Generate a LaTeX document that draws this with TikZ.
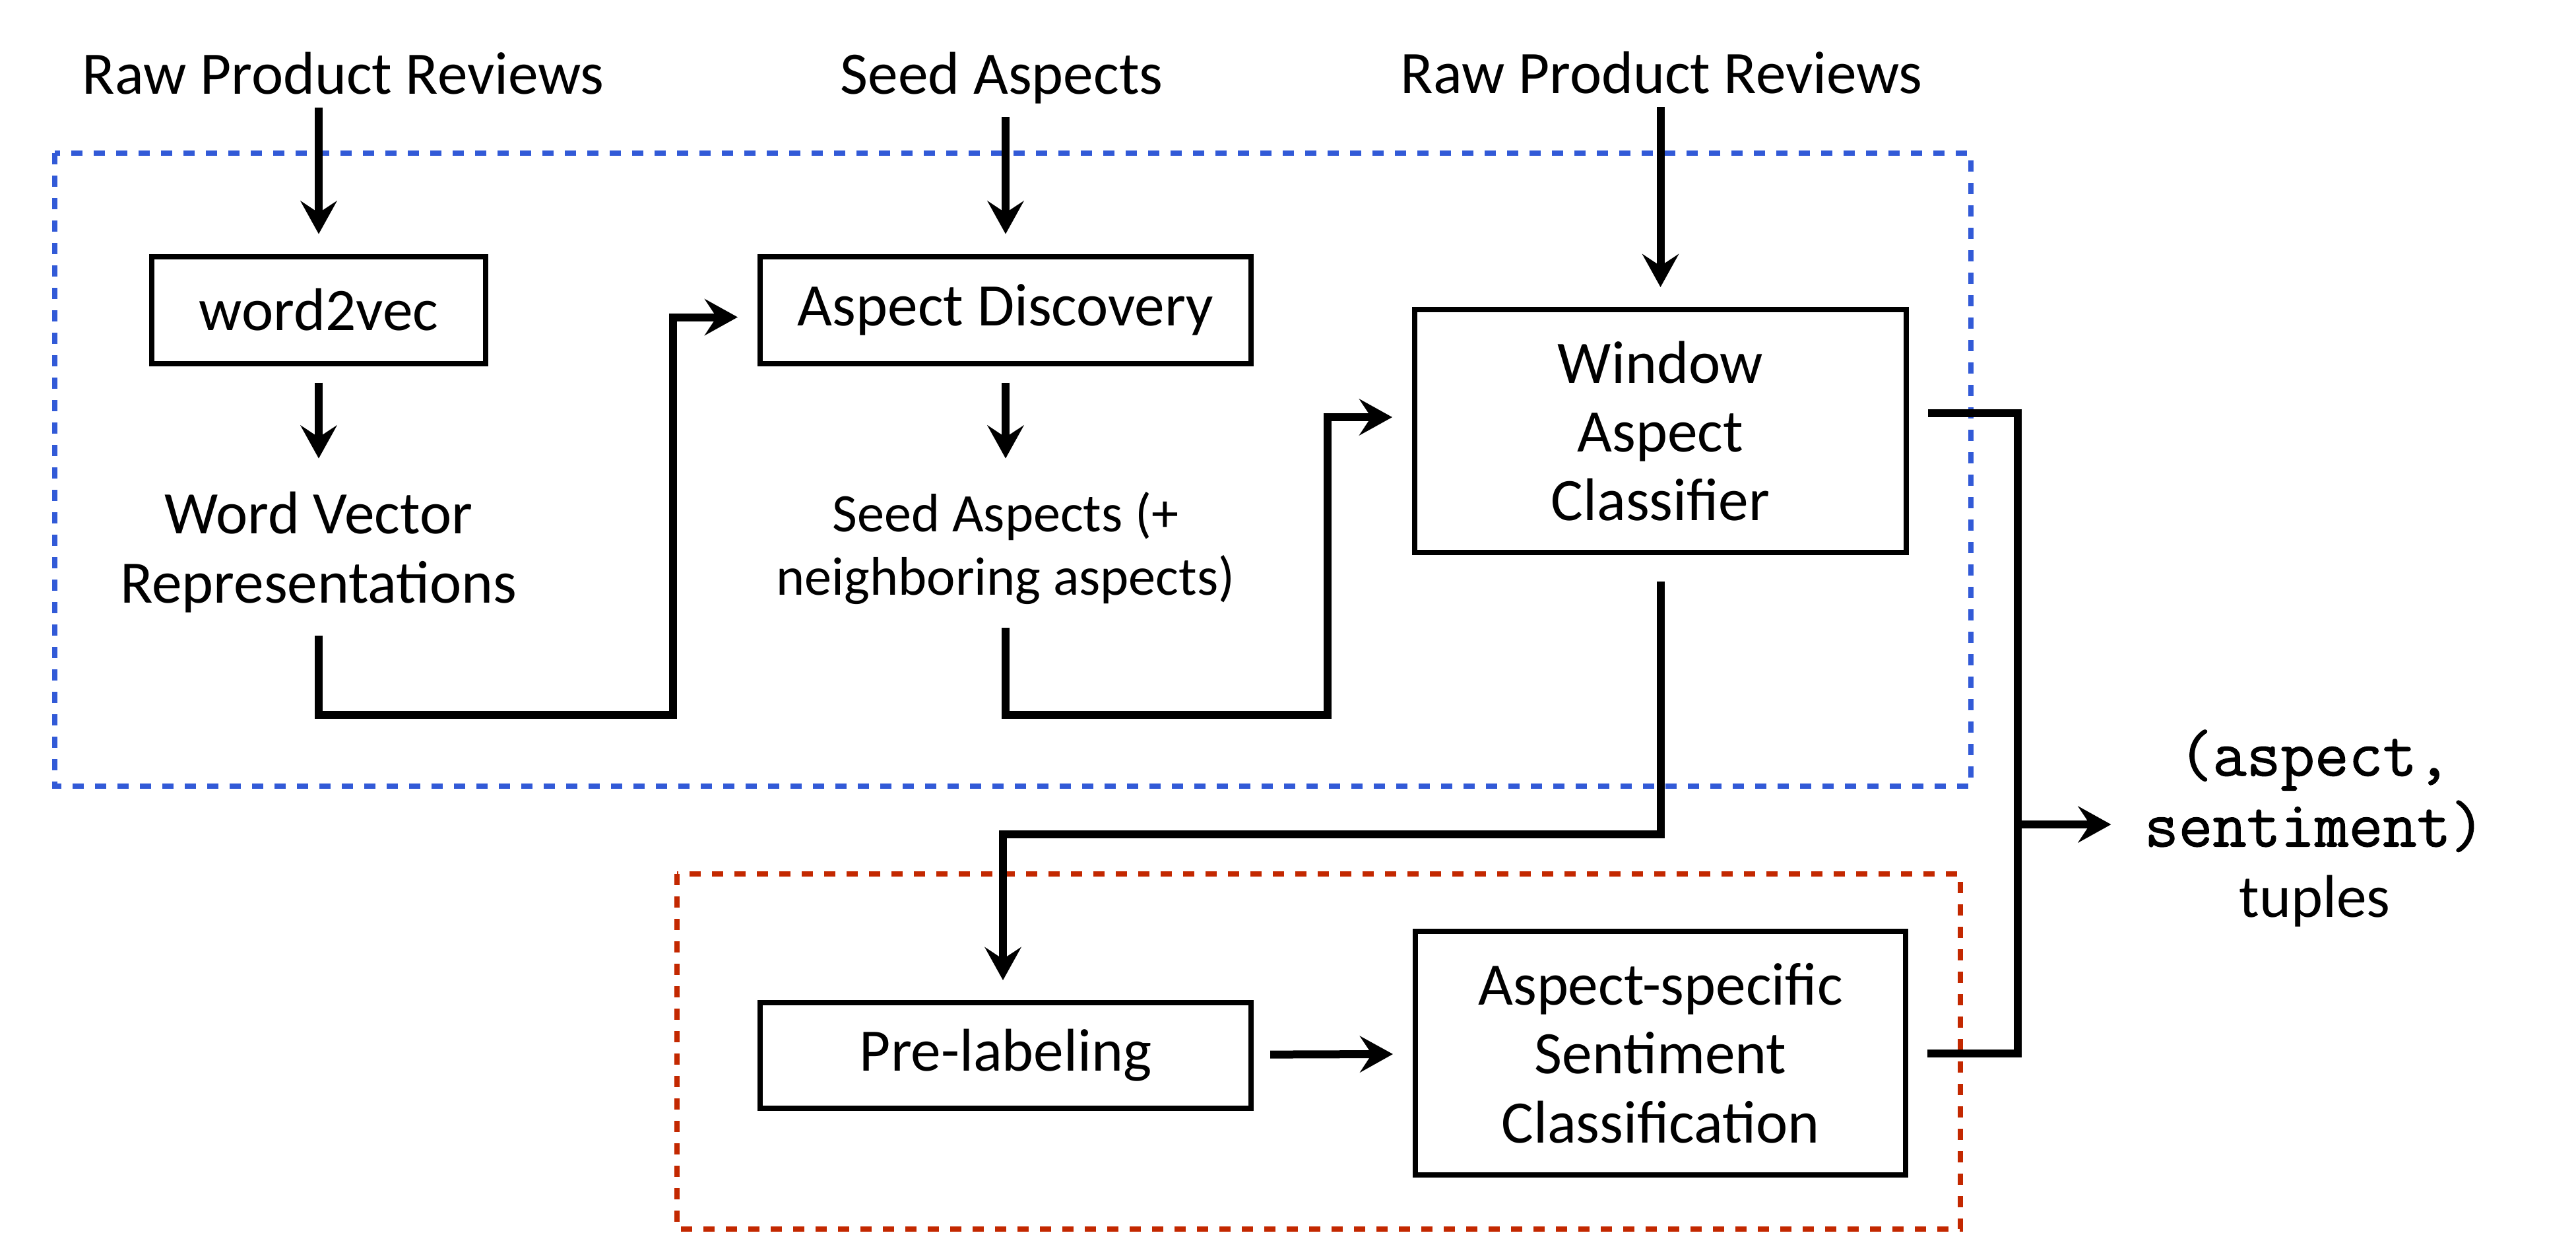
\documentclass[tikz,border=0pt]{standalone}
\usepackage{fontspec}
\setmainfont{Carlito}
\newfontfamily\tuplefam{Latin Modern Mono}[FakeBold=1.2]
\usepackage{xcolor}
\usetikzlibrary{positioning, arrows.meta}
\definecolor{boxblue}{RGB}{50,90,215}
\definecolor{boxred}{RGB}{195,40,0}
\newcommand{\tuplefont}{\tuplefam\fontsize{28.5}{30.5}\selectfont}

\begin{document}
\begin{tikzpicture}[
    blk/.style={draw, line width=0.08cm, inner sep=0pt, align=center, font=\fontsize{26}{29.7}\selectfont},
    lbl/.style={inner sep=0.1cm, align=center, font=\fontsize{26}{29.7}\selectfont},
    flow/.style={line width=0.12cm, -{Stealth[length=0.5cm, width=0.55cm, inset=0.18cm]}, shorten <=0.25cm, shorten >=0.3cm},
    wire/.style={line width=0.12cm},
    region/.style={line width=0.08cm, dash pattern=on 0.17cm off 0.17cm}]
  \useasboundingbox (0,0) rectangle (39.04,-18.70);

  \draw[region, boxblue] (0.83,-2.32) rectangle (29.87,-11.91);
  \draw[region, boxred] (10.26,-13.24) rectangle (29.71,-18.62);

  \node[lbl, anchor=base] (rev1) at (5.20,-1.42) {Raw Product Reviews};
  \node[lbl, anchor=base] (seed) at (15.18,-1.42) {Seed Aspects};
  \node[lbl, anchor=base] (rev2) at (25.18,-1.41) {Raw Product Reviews};

  \node[blk, minimum width=5.06cm, minimum height=1.62cm] (w2v) at (4.83,-4.695) {word2vec};
  \node[blk, minimum width=7.44cm, minimum height=1.62cm] (disc) at (15.24,-4.695) {Aspect Discovery};
  \node[blk, minimum width=7.45cm, minimum height=3.68cm] (win) at (25.165,-6.53) {Window\\Aspect\\Classifier};
  \node[blk, minimum width=7.44cm, minimum height=1.6cm] (pre) at (15.24,-15.99) {Pre-labeling};
  \node[blk, minimum width=7.43cm, minimum height=3.69cm] (asc) at (25.165,-15.955) {Aspect-specific\\Sentiment\\Classification};

  \node[lbl, below=1.8cm of w2v] (wvec) {Word Vector\\Representations};
  \node[lbl, below=1.8cm of disc, font=\fontsize{23.4}{27.3}\selectfont] (sexp) {Seed Aspects (+\\neighboring aspects)};
  \node[inner sep=0pt, align=center, font=\fontsize{26}{30.5}\selectfont] (out) at (35.08,-12.55)
    {{\tuplefont (aspect,}\\{\tuplefont sentiment)}\\tuples};

  \coordinate (c1) at (10.20,-10.83);
  \coordinate (c2) at (20.12,-10.83);
  \coordinate (c3) at (15.20,-12.64);
  \coordinate (j) at (30.58,-12.49);

  \draw[flow, shorten <=0.1cm] (rev1.south -| w2v.north) -- (w2v);
  \draw[flow, shorten <=0.1cm] (seed.south -| disc.north) -- (disc);
  \draw[flow, shorten <=0.1cm] (rev2.south -| win.north) -- (win);
  \draw[flow, shorten >=0.4cm] (w2v) -- (wvec);
  \draw[flow, shorten >=0.4cm] (disc) -- (sexp);
  \draw[flow] (wvec) |- (c1) |- ([yshift=-0.11cm]disc.west);
  \draw[flow] (sexp) |- (c2) |- ([yshift=0.21cm]win.west);
  \draw[flow, shorten <=0.4cm] (win) |- (c3) -- (c3 |- pre.north);
  \draw[flow] (pre) -- (asc);
  \draw[wire] ([xshift=0.29cm, yshift=0.27cm]win.east) -| (j) |- ([xshift=0.29cm]asc.east);
  \draw[flow, shorten <=0pt, shorten >=0.5cm] (j) -- (j -| out.west);
\end{tikzpicture}
\end{document}
